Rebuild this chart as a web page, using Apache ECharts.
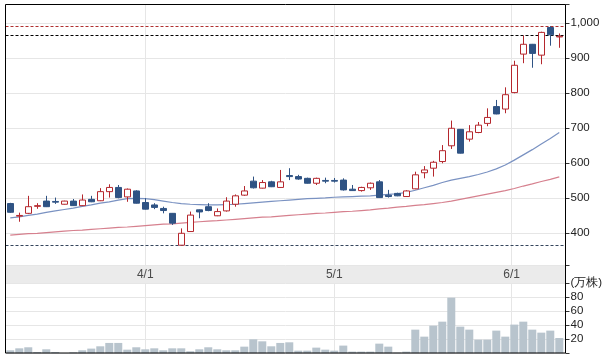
<!DOCTYPE html>
<html><head><meta charset="utf-8">
<script src="https://cdn.jsdelivr.net/npm/echarts@6/dist/echarts.min.js"></script>
<style>html,body{margin:0;padding:0;background:#fff}#c{width:610px;height:357px}</style>
</head><body><div id="c"></div>
<script>
// ---- data ----
const opens  = [485,449,457,477,492,491,483,492,479,497,493,519,531,504,521,488,481,471,457,366,405,467,476,450,464,483,509,549,529,547,531,565,562,557,543,551,551,552,526,522,530,547,509,514,505,527,573,586,605,650,697,669,688,714,762,755,802,912,940,909,988,961];
const closes = [460,451,476,479,476,489,492,479,495,490,519,531,502,526,486,469,474,465,429,400,452,461,465,462,492,507,521,530,545,533,547,562,555,543,557,549,549,524,522,531,543,502,505,507,521,567,581,603,636,700,629,690,709,731,741,796,880,940,914,974,967,963];
const lows   = [458,433,455,470,475,484,482,478,478,489,492,502,500,490,485,468,469,457,424,366,404,443,463,449,462,476,507,528,528,532,530,552,553,542,538,543,545,522,521,519,524,501,502,506,504,526,557,562,600,641,628,662,686,706,740,743,800,886,873,883,936,930];
const highs  = [487,459,507,486,507,502,493,498,511,507,529,540,538,528,523,500,486,476,458,414,462,468,486,471,503,511,535,562,552,550,581,586,567,559,559,559,558,557,538,533,545,552,524,516,523,576,592,607,652,722,698,709,718,757,781,817,893,965,941,976,992,971];
const maShort = [444,447,451,455,460,464,468,472,477,481,486,490,495,499,500,499,496,492,488,485,483,482,481,481,482,483,485,487,489,491,493,495,497,499,500,501,503,504,505,506,507,509,511,513,517,523,530,537,545,552,557,562,568,575,584,595,609,624,639,655,671,688];
const maLong  = [395,397,399,400,402,404,406,408,409,411,413,415,417,418,420,422,424,426,427,429,431,433,435,436,438,440,442,444,446,447,449,451,453,455,457,458,460,462,463,465,467,470,472,475,477,480,482,485,488,492,497,502,507,512,517,522,528,535,541,548,554,561];
const volumes = [4.3,7.1,8.6,1.9,5.7,1.9,0.3,1.4,4.3,6.7,10,14.8,14.8,5.2,8.6,5.7,7.1,4.3,7.1,7.1,2.9,5.7,8.6,5.7,4.3,4.3,9.5,20,17.1,10,14.8,15.7,3.8,3.8,8.1,5.2,3.8,11,2.4,2.4,2.4,13.8,9.5,1,2.4,33.8,23.8,39.5,45.2,79.5,38.1,33.8,19.5,19.5,32.4,23.8,41,45.2,33.8,29.5,32.4,21.9];
const monthLabels = ['4/1','5/1','6/1'];
const monthAt = [15, 36, 55.71];

// ---- derived ----
const idx = opens.map((_, i) => i);
const candles = idx.map(i => [i, opens[i], closes[i], lows[i], highs[i]]);
const maxHigh = Math.max(...highs);
const minLow = Math.min(...lows);
const prevClose = closes[closes.length - 2];

const FONT = 'Liberation Sans';
const RED = '#b5272d', BLUE = '#2f5384';
const X_MIN = -0.53, X_MAX = 61.69;
const GRID_L = 5.5, GRID_W = 560;

const vLines = monthAt.map(x => ({ xAxis: x, lineStyle: { color: '#e6e6e6', type: 'solid', width: 1 } }));

const chart = echarts.init(document.getElementById('c'), null, { renderer: 'canvas' });
chart.setOption({
  animation: false,
  backgroundColor: '#fff',
  textStyle: { fontFamily: FONT },
  grid: [
    { left: GRID_L, top: 4.5, width: GRID_W, height: 261.2 },
    { left: GRID_L, top: 265.7, width: GRID_W, height: 17.6, show: true, backgroundColor: '#ebebeb', borderWidth: 0 },
    { left: GRID_L, top: 283.3, width: GRID_W, height: 70 }
  ],
  xAxis: [0, 1, 2].map(g => ({ gridIndex: g, type: 'value', min: X_MIN, max: X_MAX, show: false,
    axisLine: { onZero: false } })),
  yAxis: [
    { gridIndex: 0, type: 'value', position: 'right', min: 307.4, max: 1053.7, splitNumber: 7,
      axisLine: { show: false, onZero: false },
      axisTick: { show: true, length: 4, lineStyle: { color: '#333' } },
      axisLabel: { margin: 5, color: '#222', fontSize: 11.5, fontFamily: FONT,
        formatter: v => (Math.abs(v - Math.round(v / 100) * 100) < 0.01 ? Math.round(v).toLocaleString('en-US') : '') },
      splitLine: { lineStyle: { color: '#e6e6e6' } } },
    { gridIndex: 1, type: 'value', min: 0, max: 1, show: false, axisLine: { onZero: false } },
    { gridIndex: 2, type: 'value', position: 'right', min: 0, max: 100, interval: 20,
      axisLine: { show: false, onZero: false },
      axisTick: { show: true, length: 4, lineStyle: { color: '#333' } },
      axisLabel: { margin: 5, color: '#222', fontSize: 11.5, fontFamily: FONT,
        formatter: v => (v === 0 ? '' : (v === 100 ? '(万株)' : String(v))) },
      splitLine: { lineStyle: { color: '#e6e6e6' } } }
  ],
  series: [
    { type: 'line', xAxisIndex: 0, yAxisIndex: 0, data: idx.map(i => [i, maLong[i]]),
      showSymbol: false, lineStyle: { color: '#d6808e', width: 1.2 }, z: 2 },
    { type: 'line', xAxisIndex: 0, yAxisIndex: 0, data: idx.map(i => [i, maShort[i]]),
      showSymbol: false, lineStyle: { color: '#7a92c2', width: 1.2 }, z: 2 },
    { type: 'candlestick', xAxisIndex: 0, yAxisIndex: 0, data: candles, barWidth: 6, z: 3,
      itemStyle: { color: '#ffffff', color0: BLUE, borderColor: RED, borderColor0: BLUE, borderWidth: 1 },
      markLine: { silent: true, symbol: ['none', 'none'], label: { show: false }, z: 1,
        data: vLines.concat([
          { yAxis: maxHigh, lineStyle: { color: '#b03030', type: [3, 2], width: 1 } },
          { yAxis: prevClose, lineStyle: { color: '#000000', type: [3, 2], width: 1 } },
          { yAxis: minLow, lineStyle: { color: '#34455c', type: [3, 2], width: 1 } }
        ]) } },
    { type: 'scatter', xAxisIndex: 1, yAxisIndex: 1, symbolSize: 1, z: 5,
      itemStyle: { color: 'rgba(0,0,0,0)' },
      data: monthAt.map(x => [x, 0.5]),
      label: { show: true, position: 'inside', color: '#222', fontSize: 12, fontFamily: FONT,
        formatter: p => monthLabels[p.dataIndex] } },
    { type: 'bar', xAxisIndex: 2, yAxisIndex: 2, data: idx.map(i => [i, volumes[i]]), barWidth: 8,
      itemStyle: { color: '#b8c4cd' }, z: 2,
      markLine: { silent: true, symbol: ['none', 'none'], label: { show: false }, z: 1, data: vLines } }
  ],
  graphic: [
    { type: 'rect', z: 100, silent: true,
      shape: { x: 5.5, y: 4.5, width: 560, height: 348.5 },
      style: { fill: null, stroke: '#000', lineWidth: 1 } }
  ]
});
</script></body></html>
